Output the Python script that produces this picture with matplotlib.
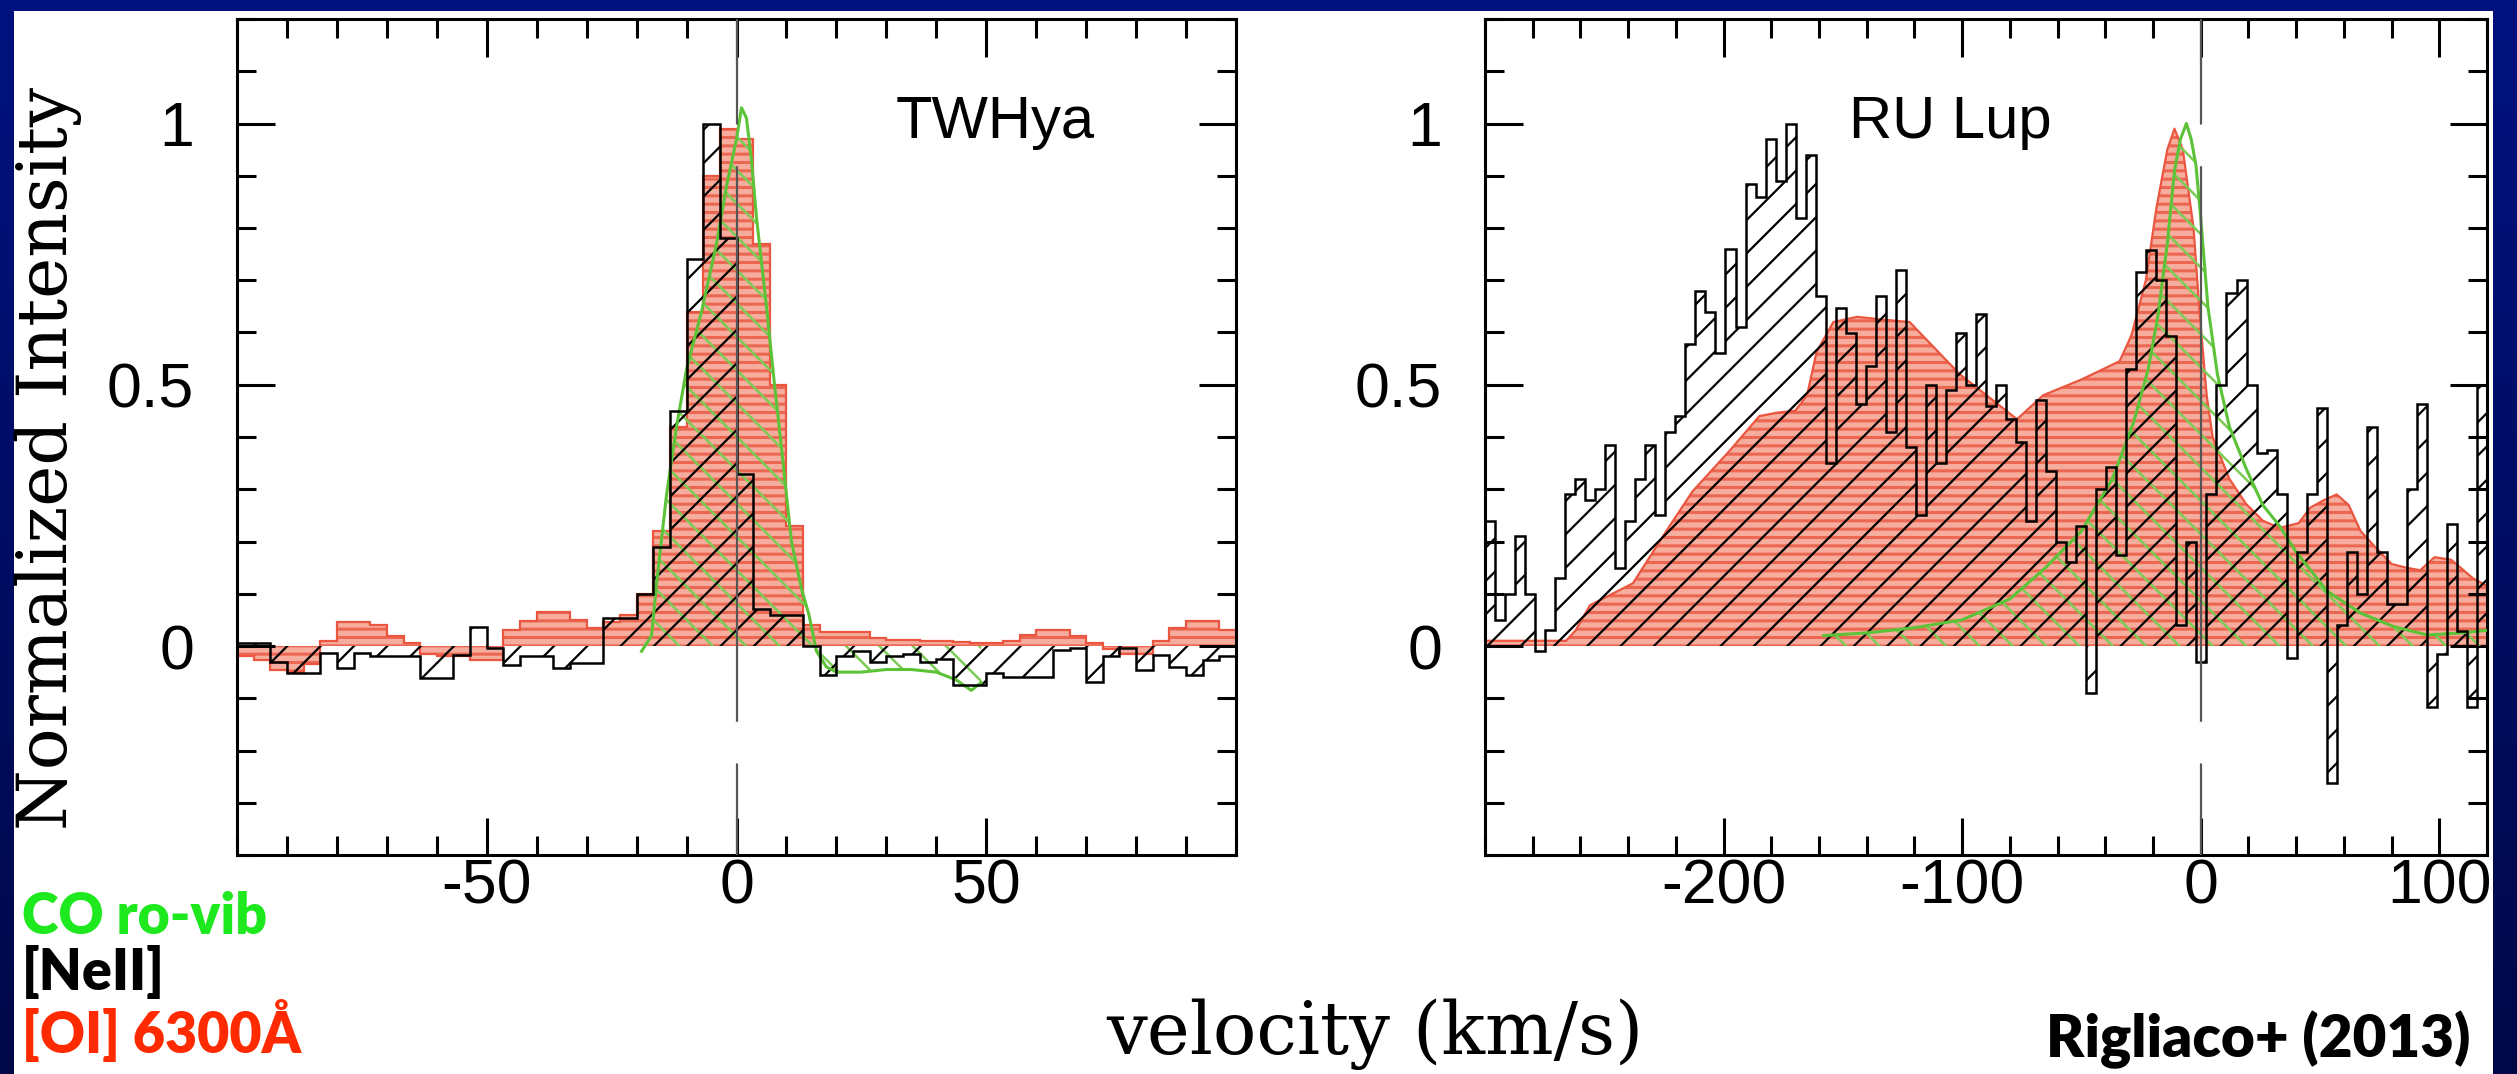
import numpy as np
import matplotlib as mpl
mpl.use("Agg")
import matplotlib.pyplot as plt
from matplotlib.ticker import MultipleLocator
from matplotlib.patches import Rectangle

# ---------------- data ----------------
# TWHya: histograms on 3.33 km/s bins from -100 to +100 km/s
tw_edges = np.linspace(-100, 100, 61)
tw_neii = [0.005, 0.005, -0.03, -0.052, -0.052, -0.014, -0.043, -0.014, -0.02, -0.02,
           -0.02, -0.062, -0.062, -0.017, 0.037, -0.004, -0.036, -0.02, -0.02, -0.043,
           -0.033, -0.033, 0.053, 0.053, 0.10, 0.19, 0.45, 0.74, 1.0, 0.78,
           0.33, 0.07, 0.06, 0.06, 0.0, -0.055, -0.02, -0.01, -0.03, -0.02,
           -0.015, -0.03, -0.025, -0.075, -0.075, -0.052, -0.059, -0.059, -0.059, -0.008,
           -0.004, -0.068, -0.02, -0.004, -0.046, -0.017, -0.04, -0.055, -0.027, -0.02]
tw_oi = [-0.02, -0.027, -0.045, -0.05, -0.035, 0.01, 0.045, 0.045, 0.04, 0.02,
         0.005, -0.015, -0.02, -0.02, -0.027, -0.027, 0.03, 0.047, 0.066, 0.066,
         0.05, 0.034, 0.045, 0.06, 0.10, 0.22, 0.42, 0.64, 0.90, 0.99,
         0.97, 0.77, 0.50, 0.23, 0.04, 0.026, 0.026, 0.026, 0.015, 0.011,
         0.011, 0.01, 0.01, 0.008, 0.006, 0.006, 0.01, 0.021, 0.031, 0.031,
         0.02, 0.005, -0.005, -0.015, -0.015, 0.01, 0.034, 0.047, 0.047, 0.03]
tw_co_v = [-19, -17, -16, -14, -12, -10, -7, -4, -2, 0, 1, 2, 3, 4, 6, 7.5, 9, 11, 13,
           14.5, 16, 18, 20, 25, 30, 35, 40, 44, 47, 49]
tw_co = [-0.01, 0.02, 0.12, 0.29, 0.42, 0.53, 0.64, 0.77, 0.88, 0.97, 1.03, 1.01, 0.93,
         0.82, 0.65, 0.51, 0.38, 0.20, 0.11, 0.06, -0.01, -0.04, -0.05, -0.05, -0.045,
         -0.045, -0.05, -0.065, -0.085, -0.07]

# RU Lup: [NeII] on 4.2 km/s bins from -300 to +120 km/s
ru_edges = np.linspace(-300, 120, 101)
ru_neii = [0.24, 0.05, 0.10, 0.21, 0.10, -0.01, 0.03, 0.13, 0.29, 0.32,
           0.28, 0.30, 0.385, 0.15, 0.24, 0.32, 0.385, 0.25, 0.41, 0.44,
           0.578, 0.68, 0.64, 0.56, 0.76, 0.61, 0.885, 0.86, 0.97, 0.89,
           1.0, 0.82, 0.94, 0.67, 0.35, 0.647, 0.60, 0.463, 0.535, 0.67,
           0.41, 0.72, 0.38, 0.25, 0.50, 0.35, 0.49, 0.60, 0.50, 0.635,
           0.46, 0.50, 0.435, 0.39, 0.24, 0.47, 0.335, 0.20, 0.16, 0.23,
           -0.09, 0.30, 0.343, 0.175, 0.53, 0.716, 0.757, 0.70, 0.594, 0.04,
           0.20, -0.03, 0.29, 0.50, 0.675, 0.70, 0.50, 0.37, 0.376, 0.29,
           -0.023, 0.18, 0.29, 0.456, -0.263, 0.04, 0.18, 0.10, 0.42, 0.18,
           0.08, 0.08, 0.30, 0.464, -0.117, -0.015, 0.233, 0.028, -0.117, 0.50]
ru_oi_v = [-300, -266, -262, -256, -238, -224, -213, -197, -185, -177,
           -170, -165, -161, -154, -144, -134, -122, -101, -77, -66,
           -50, -34, -29, -23, -18.5, -14, -11, -7.5, -3, -0.5,
           2.5, 5, 12, 19, 26, 33, 41, 46, 52, 57,
           62, 67, 73, 80, 86, 92, 98, 105, 114, 120]
ru_oi = [0.01, 0.01, 0.03, 0.078, 0.12, 0.22, 0.296, 0.376, 0.44, 0.447,
         0.45, 0.48, 0.563, 0.62, 0.63, 0.625, 0.62, 0.52, 0.434, 0.48,
         0.51, 0.545, 0.595, 0.70, 0.84, 0.95, 0.99, 0.95, 0.80, 0.64,
         0.48, 0.40, 0.32, 0.272, 0.24, 0.226, 0.235, 0.265, 0.28, 0.29,
         0.27, 0.22, 0.19, 0.157, 0.15, 0.145, 0.17, 0.165, 0.13, 0.115]
ru_co_v = [-158, -140, -120, -100, -80, -65, -50, -37, -28, -22, -18, -14, -11, -8.5,
           -6, -4, -2, 0, 3, 7, 12, 19, 26, 33, 40, 53, 67, 81, 95, 109, 120]
ru_co = [0.02, 0.025, 0.035, 0.05, 0.09, 0.15, 0.22, 0.32, 0.43, 0.53, 0.63, 0.77,
         0.91, 0.97, 1.0, 0.97, 0.92, 0.82, 0.65, 0.52, 0.42, 0.34, 0.27, 0.23, 0.18,
         0.105, 0.063, 0.037, 0.021, 0.025, 0.03]

# ---------------- styling ----------------
W, H, DPI = 2517, 1074, 100
OI_FACE = "#f6ad9e"
OI_STRIPE = "#ec6752"
OI_LINE = "#ea5640"
CO_LINE = "#5cc238"
CO_HATCH = "#7ccb55"

plt.rcParams["axes.unicode_minus"] = False
plt.rcParams["lines.scale_dashes"] = False
plt.rcParams["hatch.linewidth"] = 1.6
plt.rcParams["font.family"] = ["Liberation Sans", "DejaVu Sans"]


def px(x0, y0, x1, y1):
    """pixel box (origin top-left) -> figure fraction rect"""
    return [x0 / W, 1 - y1 / H, (x1 - x0) / W, (y1 - y0) / H]


def hatch_lw(artist, lw):
    if hasattr(artist, "set_hatch_linewidth"):
        artist.set_hatch_linewidth(lw)
    return artist


def draw_panel(ax, edges, neii, oi_x, oi, co_v, co, oi_steps):
    # [OI] : salmon fill with horizontal stripes
    if oi_steps:
        ax.stairs(oi, oi_x, baseline=0, fill=True, facecolor=OI_FACE,
                  edgecolor="none", zorder=1)
        hatch_lw(ax.stairs(oi, oi_x, baseline=0, fill=True, facecolor="none",
                           edgecolor=OI_STRIPE, hatch="--", lw=0, zorder=1.1), 2.2)
        ax.stairs(oi, oi_x, baseline=None, color=OI_LINE, lw=1.6, zorder=1.2)
    else:
        ax.fill_between(oi_x, oi, 0, facecolor=OI_FACE, edgecolor="none", zorder=1)
        hatch_lw(ax.fill_between(oi_x, oi, 0, facecolor="none", edgecolor=OI_STRIPE,
                                 hatch="--", lw=0, zorder=1.1), 2.2)
        ax.plot(oi_x, oi, color=OI_LINE, lw=1.6, zorder=1.2)

    # CO ro-vib : green outline, back-diagonal hatch
    hatch_lw(ax.fill_between(co_v, co, 0, facecolor="none", edgecolor=CO_HATCH,
                             hatch="\\", lw=0, zorder=2), 1.8)

    # [NeII] : black histogram, diagonal hatch
    hatch_lw(ax.stairs(neii, edges, baseline=0, fill=True, facecolor="none",
                       edgecolor="black", hatch="/", lw=0, zorder=2.5), 1.6)
    ax.plot(co_v, co, color=CO_LINE, lw=2.2, zorder=3)
    ax.stairs(neii, edges, baseline=None, color="black", lw=1.8, zorder=3.5)

    # dashed zero-velocity line
    ax.plot([0, 0], [1.2, -0.4], color="#555555", lw=1.6,
            linestyle=(324, (400, 30)), zorder=4)


def style_axes(ax, xlim, xticks, xminor):
    ax.set_xlim(*xlim)
    ax.set_ylim(-0.4, 1.2)
    ax.set_xticks(xticks, [f"{t:g}" for t in xticks])
    ax.xaxis.set_minor_locator(MultipleLocator(xminor))
    ax.set_yticks([0, 0.5, 1], ["0", "0.5", "1"])
    ax.yaxis.set_minor_locator(MultipleLocator(0.1))
    ax.tick_params(which="both", direction="in", top=True, right=True,
                   width=2.2, color="black")
    ax.tick_params(which="major", length=27, labelsize=45)
    ax.tick_params(which="minor", length=14)
    ax.tick_params(axis="x", pad=2)
    ax.tick_params(axis="y", pad=31)
    for sp in ax.spines.values():
        sp.set_linewidth(2.2)


fig = plt.figure(figsize=(W / DPI, H / DPI), dpi=DPI)

# navy slide background with the white figure area
bg = fig.add_axes([0, 0, 1, 1])
grad = np.linspace(0, 1, 256)[:, None]
navy = mpl.colors.LinearSegmentedColormap.from_list("navy", ["#00127f", "#000848"])
bg.imshow(grad, aspect="auto", cmap=navy, extent=[0, 1, 0, 1], origin="upper")
bg.add_patch(Rectangle((14 / W, 0), (2493 - 14) / W, 1 - 11 / H,
                       facecolor="white", edgecolor="none", transform=bg.transAxes))
bg.set_xlim(0, 1)
bg.set_ylim(0, 1)
bg.axis("off")

ax1 = fig.add_axes(px(237, 19, 1236, 855))
ax2 = fig.add_axes(px(1485, 19, 2487, 855))

draw_panel(ax1, tw_edges, tw_neii, tw_edges, tw_oi, tw_co_v, tw_co, oi_steps=True)
draw_panel(ax2, ru_edges, ru_neii, ru_oi_v, ru_oi, ru_co_v, ru_co, oi_steps=False)

style_axes(ax1, (-100, 100), [-50, 0, 50], 10)
style_axes(ax2, (-300, 120), [-200, -100, 0, 100], 20)

ax1.text(0.759, 0.858, "TWHya", transform=ax1.transAxes, ha="center",
         va="baseline", fontsize=43)
ax2.text(0.464, 0.858, "RU Lup", transform=ax2.transAxes, ha="center",
         va="baseline", fontsize=43)

serif = ["DejaVu Serif"]
fig.text(48 / W, 1 - 458 / H, "Normalized Intensity", rotation=90, ha="center",
         va="center", family=serif, fontsize=50)
fig.text(1375 / W, 1 - 1034 / H, "velocity (km/s)", ha="center", va="center",
         family=serif, fontsize=52)

lab = dict(family=["Lato", "DejaVu Sans"], fontweight="heavy", fontsize=40,
           ha="left", va="baseline")
fig.text(22 / W, 1 - 934 / H, "CO ro-vib", color="#1ee81e", **lab)
fig.text(22 / W, 1 - 990 / H, "[NeII]", color="black", **lab)
fig.text(22 / W, 1 - 1053 / H, "[OI] 6300Å", color="#ff2a00", **lab)
fig.text(2470 / W, 1 - 1057 / H, "Rigliaco+ (2013)", color="black",
         family=["Lato", "DejaVu Sans"], fontweight="heavy", fontsize=42,
         ha="right", va="baseline")

fig.savefig("out.png", dpi=DPI)
